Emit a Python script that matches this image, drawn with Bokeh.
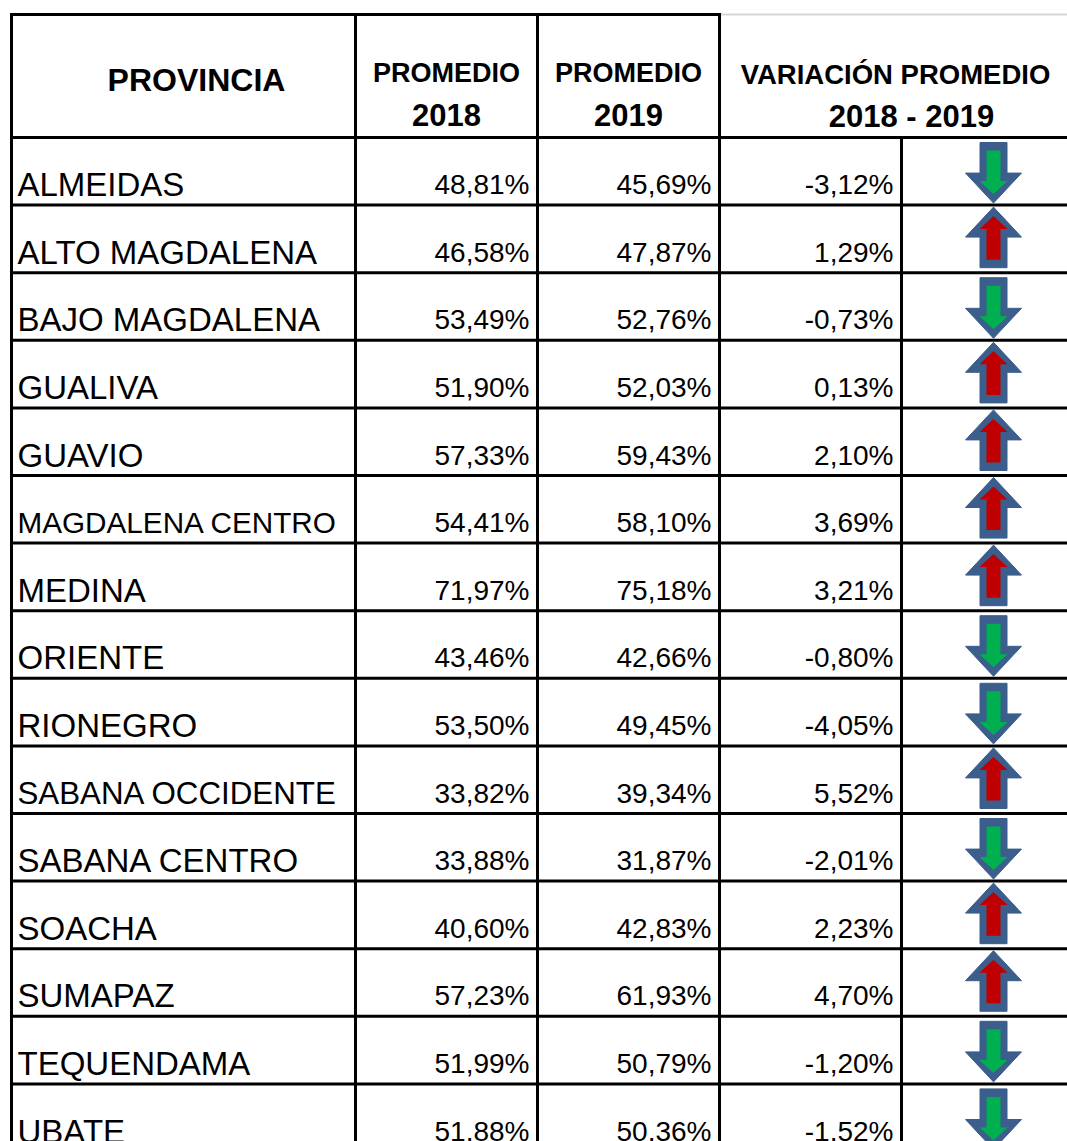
from bokeh.plotting import figure
from bokeh.models import Range1d, ColumnDataSource
from bokeh.embed import file_html
from bokeh.resources import INLINE
from bokeh.core.properties import value

# ---------------- data ----------------
provincias = ["ALMEIDAS", "ALTO MAGDALENA", "BAJO MAGDALENA", "GUALIVA", "GUAVIO",
              "MAGDALENA CENTRO", "MEDINA", "ORIENTE", "RIONEGRO", "SABANA OCCIDENTE",
              "SABANA CENTRO", "SOACHA", "SUMAPAZ", "TEQUENDAMA", "UBATE"]
promedio_2018 = [48.81, 46.58, 53.49, 51.90, 57.33, 54.41, 71.97, 43.46, 53.50, 33.82,
                 33.88, 40.60, 57.23, 51.99, 51.88]
promedio_2019 = [45.69, 47.87, 52.76, 52.03, 59.43, 58.10, 75.18, 42.66, 49.45, 39.34,
                 31.87, 42.83, 61.93, 50.79, 50.36]
variacion = [-3.12, 1.29, -0.73, 0.13, 2.10, 3.69, 3.21, -0.80, -4.05, 5.52,
             -2.01, 2.23, 4.70, -1.20, -1.52]
header_provincia = "PROVINCIA"
header_2018 = ["PROMEDIO", "2018"]
header_2019 = ["PROMEDIO", "2019"]
header_var = ["VARIACIÓN PROMEDIO", "2018 - 2019"]

# ---------------- layout ----------------
W, H = 1067, 1141
FONT = "Liberation Sans"
top_y = 14
header_bottom = 137
row_h = 67.6
col_x = [11, 355, 537, 719, 901]   # vertical rule positions
right_x = W + 5
arrow_cx = 993
TXT_SHIFT = 10.0      # renderer places the alphabetic baseline ~10px low
HDR_SHIFT = 11.0

p = figure(width=W, height=H, output_backend="svg", toolbar_location=None,
           x_range=Range1d(0, W), y_range=Range1d(H, 0),
           x_axis_type=None, y_axis_type=None, min_border=0,
           outline_line_color=None, background_fill_color="white",
           border_fill_color="white")
p.grid.visible = False

def fmt(v):
    return f"{v:.2f}".replace(".", ",") + "%"

n = len(provincias)
row_tops = [header_bottom + i * row_h for i in range(n)]
row_bottoms = [t + row_h for t in row_tops]

# ---------------- rules ----------------
p.segment(x0=[col_x[0] - 1.5], y0=[top_y], x1=[col_x[3] + 1.5], y1=[top_y],
          line_color="black", line_width=3)
p.segment(x0=[col_x[3] + 1.5], y0=[top_y], x1=[right_x], y1=[top_y],
          line_color="#d6d6d6", line_width=2)
hy = [header_bottom] + row_bottoms
p.segment(x0=[col_x[0] - 1.5] * len(hy), y0=hy, x1=[right_x] * len(hy), y1=hy,
          line_color="black", line_width=3)
bottom = H + 20
p.segment(x0=col_x[:4], y0=[top_y - 1.5] * 4, x1=col_x[:4], y1=[bottom] * 4,
          line_color="black", line_width=3)
p.segment(x0=[col_x[4]], y0=[header_bottom], x1=[col_x[4]], y1=[bottom],
          line_color="black", line_width=3)

# ---------------- header ----------------
def htext(x, y, s, size):
    p.text(x=[x], y=[y - HDR_SHIFT], text=[s], text_font=value(FONT),
           text_font_style="bold", text_font_size=size, text_align="center",
           text_baseline="alphabetic", text_color="black")

htext(196, 90, header_provincia, "32px")
for cx, lines in [(446, header_2018), (628, header_2019)]:
    htext(cx, 83, lines[0], "27px")
    htext(cx, 125, lines[1], "31px")
htext(895, 85, header_var[0], "27.5px")
htext(911, 127, header_var[1], "31px")

# ---------------- body text ----------------
# Arial/Liberation Sans regular advance widths (per 1000 em) for shrink-to-fit
ADV = {"A": 667, "B": 667, "C": 722, "D": 722, "E": 667, "F": 611, "G": 778, "H": 722,
       "I": 278, "J": 500, "K": 667, "L": 556, "M": 833, "N": 722, "O": 778, "P": 667,
       "Q": 778, "R": 722, "S": 667, "T": 611, "U": 722, "V": 667, "W": 944, "X": 667,
       "Y": 667, "Z": 611, " ": 278}
base_size = 33.0
max_w = 320.0
name_sizes = []
for name in provincias:
    w = sum(ADV.get(c, 667) for c in name) / 1000.0 * base_size
    s = base_size if w <= max_w else base_size * max_w / w
    name_sizes.append(f"{s:.1f}px")

base_y = [b - 10.5 - TXT_SHIFT for b in row_bottoms]
src = ColumnDataSource(dict(
    y=base_y, name=provincias, size=name_sizes,
    a=[fmt(v) for v in promedio_2018],
    b=[fmt(v) for v in promedio_2019],
    c=[fmt(v) for v in variacion],
))
p.text(x=17, y="y", text="name", source=src, text_font=value(FONT),
       text_font_size="size", text_align="left", text_baseline="alphabetic",
       text_color="black")
for key, xr in [("a", 529), ("b", 711), ("c", 893)]:
    p.text(x=xr, y="y", text=key, source=src, text_font=value(FONT),
           text_font_size="28px", text_align="right", text_baseline="alphabetic",
           text_color="black")

# ---------------- arrows ----------------
outer_xs, outer_ys, inner_xs, inner_ys, inner_col = [], [], [], [], []
sw, hw, hl = 13.5, 28.0, 30.0
sw_i, hw_i, inset_base, inset_tip, inset_back = 7.0, 14.0, 8.0, 9.0, 8.0
for i, v in enumerate(variacion):
    t, b = row_tops[i], row_bottoms[i]
    cx = arrow_cx
    if v < 0:   # down arrow: back at top, tip at bottom
        y_back, y_tip, d = t + 5, b - 2, 1
        color = "#00B050"
    else:       # up arrow: tip at top, back at bottom
        y_back, y_tip, d = b - 5, t + 2, -1
        color = "#C00000"
    y_base = y_tip - d * hl
    outer_xs.append([cx - sw, cx + sw, cx + sw, cx + hw, cx, cx - hw, cx - sw])
    outer_ys.append([y_back, y_back, y_base, y_base, y_tip, y_base, y_base])
    yb_i = y_back + d * inset_back
    ybase_i = y_base + d * inset_base
    ytip_i = y_tip - d * inset_tip
    inner_xs.append([cx - sw_i, cx + sw_i, cx + sw_i, cx + hw_i, cx, cx - hw_i, cx - sw_i])
    inner_ys.append([yb_i, yb_i, ybase_i, ybase_i, ytip_i, ybase_i, ybase_i])
    inner_col.append(color)

p.patches(xs=outer_xs, ys=outer_ys, fill_color="#3B5E8C", line_color="#3B5E8C",
          line_width=1)
p.patches(xs="xs", ys="ys", fill_color="col", line_color=None,
          source=ColumnDataSource(dict(xs=inner_xs, ys=inner_ys, col=inner_col)))

open("out.html", "w").write(file_html(p, INLINE))
